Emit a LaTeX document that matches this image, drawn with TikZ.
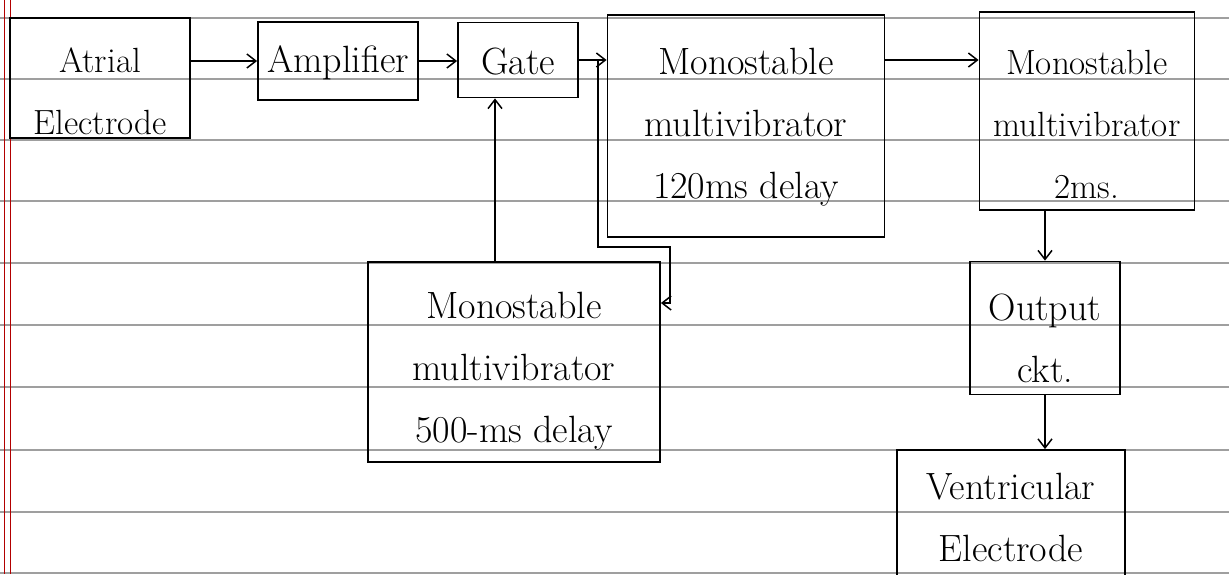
\documentclass[tikz,border=0pt]{standalone}
\usepackage{fontspec}
\usetikzlibrary{arrows.meta}
\begin{document}
\begin{tikzpicture}[x=1pt,y=-1pt,
  rule/.style={gray!75, line width=1.1pt},
  margin/.style={red!70!black, line width=0.6pt},
  blk/.style={draw=black, line width=1.8pt, inner sep=0pt},
  txt/.style={align=center, inner sep=0pt, font=\fontsize{38}{62}\selectfont},
  txts/.style={txt, font=\fontsize{35}{62}\selectfont},
  arr/.style={draw=black, line width=1.5pt, -{Straight Barb[length=9pt,width=14pt,line width=1.5pt]}}]
\clip (0,0) rectangle (1229,574);
\fill[white] (0,0) rectangle (1229,574);
% ruled paper
\foreach \yy in {18,79,140,201,263,325,387,450,512,573}
  \draw[rule] (0,\yy) -- (1229,\yy);
\draw[margin] (4,0) -- (4,574);
\draw[margin] (10,0) -- (10,574);
% blocks
\node[blk, minimum width=180, minimum height=120,
  label={[txts,yshift=-13pt]center:{Atrial\\Electrode}}] (atrial) at (100,78) {};
\node[blk, minimum width=160, minimum height=78,
  label={[txt,yshift=-2pt]center:{Amplifier}}] (amp) at (338,61) {};
\node[blk, minimum width=120, minimum height=75,
  label={[txt,yshift=-2pt]center:{Gate}}] (gate) at (518,60) {};
\node[blk, minimum width=277, minimum height=222,
  label={[txt,yshift=-1pt]center:{Monostable\\multivibrator\\120ms delay}}] (m120) at (746,126) {};
\node[blk, minimum width=215, minimum height=198,
  label={[txts,yshift=-13pt]center:{Monostable\\multivibrator\\2ms.}}] (m2) at (1087,111) {};
\node[blk, minimum width=150, minimum height=133,
  label={[txt,yshift=-10pt]center:{Output\\ckt.}}] (out) at (1045,328) {};
\node[blk, minimum width=228, minimum height=140,
  label={[txt,yshift=3pt]center:{Ventricular\\Electrode}}] (vent) at (1011,520) {};
\node[blk, minimum width=292, minimum height=200,
  label={[txt,yshift=-9pt]center:{Monostable\\multivibrator\\500-ms delay}}] (m500) at (514,362) {};
% helper coordinates
\coordinate (tap) at (598,60);
\coordinate (c1) at (670,247);
\coordinate (fbin) at (660,303);
\coordinate (fbx) at (495,0);
% connectors
\draw[arr] (atrial.east |- amp.west) -- (amp.west);
\draw[arr] (amp.east) -- (gate.west |- amp.east);
\draw[arr] (gate.east) -- (gate.east -| m120.west);
\draw[arr] (m120.east |- tap) -- (m2.west |- tap);
\draw[arr] (out.north |- m2.south) -- (out.north);
\draw[arr] (out.south) -- (out.south |- vent.north);
\draw[arr] (m500.north -| fbx) -- (gate.south -| fbx);
\draw[arr] (tap) |- (c1) |- (m500.east |- fbin);
\end{tikzpicture}
\end{document}
